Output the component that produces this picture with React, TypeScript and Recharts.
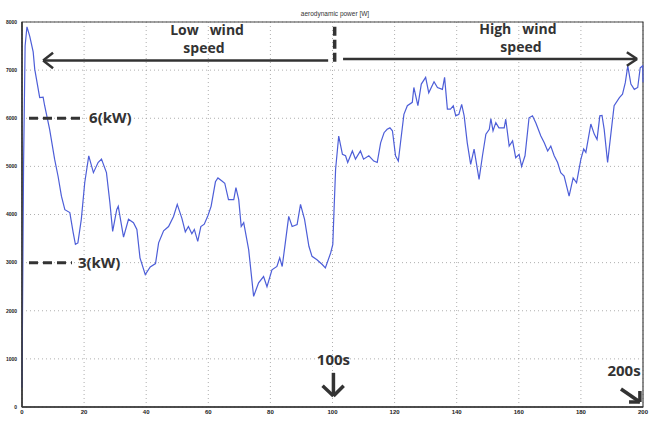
import {
  LineChart,
  Line,
  XAxis,
  YAxis,
  CartesianGrid,
  ReferenceLine,
  ReferenceArea,
  ReferenceDot,
} from "recharts";

// time axis (s) and aerodynamic power (W)
const TIME = [
  0, 0.5, 1, 1.6, 2.5, 3.6, 4.1, 5.7, 6.8, 7.3, 8.9, 10.5, 11.6, 12.7, 13.8,
  15.4, 16.5, 17.2, 18, 19.1, 20.2, 21.5, 23, 24.5, 25.6, 27.2, 28.3, 29.2,
  30.5, 31, 32.7, 34.3, 35.9, 37, 38, 39.7, 41.3, 43, 44, 45.6, 47.2, 48.8, 50,
  51.5, 52.6, 53.6, 54.7, 55.5, 56.6, 57.6, 58.7, 59.9, 60.9, 62.3, 63.1, 64.3,
  65.3, 66.5, 68.2, 68.9, 69.8, 70.6, 71.4, 73, 74.6, 76.2, 77.8, 78.9, 80.5,
  82.1, 83, 83.8, 84.8, 85.9, 87, 88.6, 89.7, 91, 92.4, 93.4, 95, 96.7, 97.7,
  99.4, 100.1, 100.5, 101, 102, 103.2, 104.2, 104.9, 106.4, 107.4, 109, 110,
  111.7, 113.3, 114.4, 115.5, 116.6, 117.6, 118.5, 119.3, 120.3, 121.2, 121.9,
  123, 124.1, 125.7, 126.2, 127.5, 128.6, 130, 131, 132.7, 133.8, 135.4, 136.1,
  137, 138, 138.9, 139.7, 140.7, 141.6, 142.4, 143.4, 144.5, 145.6, 147.2,
  148.3, 149.4, 150.5, 151, 151.7, 152.6, 153.6, 155.3, 155.8, 156.9, 158, 159,
  160.1, 160.9, 162, 163.3, 164.4, 165.5, 167.1, 168.2, 169.3, 170.3, 171.4,
  172.5, 173.5, 174.6, 176.2, 177.5, 178.6, 180, 180.9, 181.6, 183.2, 184.3,
  185.2, 186.1, 186.8, 187.5, 188.6, 189.7, 190.7, 192.4, 193.4, 194.3, 195.1,
  196.1, 197.2, 198.3, 199.1, 199.9, 200,
];

const POWER = [
  400, 5000, 7500, 7900, 7700, 7380, 7020, 6430, 6440, 6260, 5770, 5150, 4800,
  4380, 4100, 4040, 3620, 3380, 3410, 3900, 4660, 5220, 4870, 5080, 5150, 4870,
  4250, 3650, 4100, 4170, 3530, 3900, 3830, 3690, 3100, 2750, 2910, 2980, 3410,
  3660, 3750, 3960, 4210, 3920, 3640, 3750, 3600, 3690, 3440, 3750, 3800, 3980,
  4170, 4680, 4760, 4700, 4650, 4310, 4310, 4560, 4310, 3750, 3830, 3270, 2300,
  2580, 2710, 2500, 2850, 2920, 3100, 2920, 3410, 3960, 3750, 3790, 4210, 3900,
  3340, 3130, 3060, 2960, 2890, 3200, 3380, 4100, 4940, 5630, 5250, 5220, 5080,
  5320, 5150, 5320, 5150, 5220, 5110, 5080, 5490, 5700, 5770, 5800, 5740, 5220,
  5110, 5490, 6080, 6260, 6330, 6640, 6260, 6710, 6850, 6530, 6760, 6640, 6600,
  6850, 6190, 6190, 6260, 6050, 6080, 6290, 6050, 5490, 5040, 5360, 4730, 5220,
  5670, 5770, 5990, 5740, 5910, 5800, 5800, 5980, 5420, 5530, 5180, 5250, 5000,
  5220, 6010, 6050, 5900, 5630, 5490, 5320, 5420, 5220, 5080, 4870, 4800, 4380,
  4760, 4660, 5150, 5360, 5290, 5880, 5670, 5560, 6050, 6060, 5770, 5080, 5700,
  6260, 6430, 6500, 6740, 7090, 6710, 6600, 6640, 7050, 7090, 6750,
];

const X_TICKS = [0, 20, 40, 60, 80, 100, 120, 140, 160, 180, 200];
const Y_TICKS = [0, 1000, 2000, 3000, 4000, 5000, 6000, 7000, 8000];

const data = TIME.map((t, i) => ({ t, p: POWER[i] }));

const INK = "#333";
const FONT = "'Open Sans', 'DejaVu Sans', sans-serif";

const tickStyle = {
  fontSize: 5,
  fontWeight: 700,
  fill: "#222",
  fontFamily: "'Liberation Sans', sans-serif",
};

function note(text: string, anchor: "start" | "middle" = "middle", size = 15) {
  return (props: any) => (
    <text
      x={props.cx}
      y={props.cy}
      textAnchor={anchor}
      fontFamily={FONT}
      fontWeight={700}
      fontSize={size}
      fill={INK}
      style={{ whiteSpace: "pre" }}
    >
      {text}
    </text>
  );
}

// helper for annotation strokes (arrows, dashes)
function seg(
  key: string,
  a: [number, number],
  b: [number, number],
  width = 2.5,
  dash?: string
) {
  return (
    <ReferenceLine
      key={key}
      segment={[
        { x: a[0], y: a[1] },
        { x: b[0], y: b[1] },
      ]}
      stroke={INK}
      strokeWidth={width}
      strokeDasharray={dash}
      ifOverflow="visible"
    />
  );
}

export default function App() {
  return (
    <div
      style={{
        position: "absolute",
        left: 0,
        top: 0,
        width: 651,
        height: 424,
        background: "#fff",
      }}
    >
      <div
        style={{
          position: "absolute",
          top: 10,
          left: 0,
          width: 670,
          textAlign: "center",
          fontSize: 6.5,
          fontFamily: "'Liberation Sans', sans-serif",
          color: "#333",
        }}
      >
        aerodynamic power [W]
      </div>
      <LineChart
        width={651}
        height={424}
        data={data}
        margin={{ top: 22, right: 8, bottom: 0, left: 0 }}
      >
        <CartesianGrid
          stroke="#9a9a9a"
          strokeDasharray="1 3"
          strokeWidth={0.8}
        />
        <XAxis
          dataKey="t"
          type="number"
          domain={[0, 200]}
          ticks={X_TICKS}
          height={17}
          tickSize={0}
          tickMargin={3}
          axisLine={{ stroke: INK, strokeWidth: 1.5 }}
          tick={{ ...tickStyle, fontSize: 6 }}
          interval={0}
        />
        <YAxis
          type="number"
          domain={[0, 8000]}
          ticks={Y_TICKS}
          width={22}
          tickSize={0}
          tickMargin={5}
          axisLine={{ stroke: INK, strokeWidth: 1.5 }}
          tick={tickStyle}
          interval={0}
        />
        <ReferenceArea
          x1={0}
          x2={200}
          y1={0}
          y2={8000}
          fill="none"
          stroke="#444"
          strokeWidth={1.2}
        />
        <Line
          type="linear"
          dataKey="p"
          stroke="#4d5ed8"
          strokeWidth={1.2}
          dot={false}
          isAnimationActive={false}
        />

        {/* low / high wind speed arrows and the divider */}
        {seg("lw", [6.8, 7200], [98.6, 7200], 2.5)}
        {seg("lwa1", [6.8, 7200], [10, 7360], 2.5)}
        {seg("lwa2", [6.8, 7200], [10, 7040], 2.5)}
        {seg("hw", [103.4, 7230], [198.1, 7230], 2.5)}
        {seg("hwa1", [198.1, 7230], [194.8, 7370], 2.5)}
        {seg("hwa2", [198.1, 7230], [194.8, 7090], 2.5)}
        {seg("div", [100.7, 7900], [100.7, 7100], 3.5, "9 4")}

        {/* 6 kW and 3 kW markers */}
        {seg("d6", [2.25, 6000], [19.6, 6000], 3, "9 5")}
        {seg("d3", [2.25, 3000], [16.1, 3000], 3, "9 5")}

        {/* 100 s and 200 s arrows */}
        {seg("a100", [100.3, 710], [100.3, 230], 3.5)}
        {seg("a100l", [100.3, 230], [96.8, 440], 3.5)}
        {seg("a100r", [100.3, 230], [103.6, 440], 3.5)}
        {seg("a200", [192.9, 374], [199.0, 104], 3.5)}
        {seg("a200l", [199.0, 104], [195.5, 104], 3.5)}
        {seg("a200u", [199.0, 104], [199.0, 332], 3.5)}

        <ReferenceDot x={59.6} y={7730} r={0} shape={note("Low   wind", "middle", 14)} ifOverflow="visible" />
        <ReferenceDot x={58.6} y={7356} r={0} shape={note("speed", "middle", 14)} ifOverflow="visible" />
        <ReferenceDot x={159.7} y={7750} r={0} shape={note("High   wind", "middle", 14)} ifOverflow="visible" />
        <ReferenceDot x={160.7} y={7377} r={0} shape={note("speed", "middle", 14)} ifOverflow="visible" />
        <ReferenceDot x={21.6} y={5900} r={0} shape={note("6(kW)", "start")} ifOverflow="visible" />
        <ReferenceDot x={18.0} y={2890} r={0} shape={note("3(kW)", "start")} ifOverflow="visible" />
        <ReferenceDot x={100.3} y={873} r={0} shape={note("100s")} ifOverflow="visible" />
        <ReferenceDot x={193.9} y={644} r={0} shape={note("200s")} ifOverflow="visible" />
      </LineChart>
    </div>
  );
}
